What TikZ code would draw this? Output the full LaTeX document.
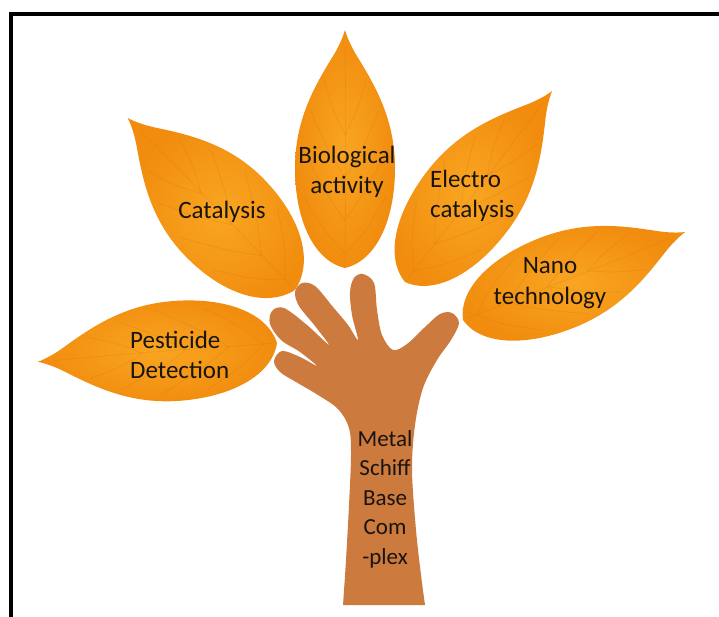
\documentclass[tikz,border=0pt]{standalone}
\usepackage{fontspec}
\setmainfont{Carlito}
\definecolor{leafLight}{RGB}{249,166,34}
\definecolor{leafDark}{RGB}{241,140,14}
\definecolor{leafVein}{RGB}{214,118,18}
\definecolor{handBrown}{RGB}{204,122,62}
\definecolor{inkDark}{RGB}{26,20,16}
\tikzset{
  leaffill/.style={inner color=leafLight, outer color=leafDark},
  vein/.style={draw=leafVein, line width=0.6pt, opacity=0.32},
  leaftext/.style={font=\fontsize{25}{30.5}\selectfont, text=inkDark, inner sep=0pt},
  trunktext/.style={font=\fontsize{23}{29.5}\selectfont, text=inkDark, inner sep=0pt, align=center},
  frameline/.style={line width=4pt, draw=black, line join=miter},
}
% one leaf: base point, direction angle, length, half width
\newcommand\drawleaf[4]{%
  \begin{scope}[shift={(#1)}, rotate=#2, xscale=#3, yscale=#4]
    \shade[leaffill] (0,0) .. controls (0.03,0.62) and (0.2,1) .. (0.42,1)
      .. controls (0.62,1) and (0.76,0.62) .. (0.88,0.27)
      .. controls (0.93,0.12) and (0.97,0.04) .. (1,0)
      .. controls (0.97,-0.04) and (0.93,-0.12) .. (0.88,-0.27)
      .. controls (0.76,-0.62) and (0.62,-1) .. (0.42,-1)
      .. controls (0.2,-1) and (0.03,-0.62) .. (0,0) -- cycle;
    \draw[vein] (0.02,0) .. controls (0.4,0.02) and (0.7,0.02) .. (0.93,0);
    \foreach \s in {1,-1} {
      \draw[vein] (0.06,0) .. controls (0.15,0.4*\s) .. (0.30,0.82*\s);
      \draw[vein] (0.20,0) .. controls (0.32,0.4*\s) .. (0.50,0.85*\s);
      \draw[vein] (0.38,0) .. controls (0.50,0.35*\s) .. (0.66,0.68*\s);
      \draw[vein] (0.56,0) .. controls (0.66,0.24*\s) .. (0.79,0.42*\s);
    }
  \end{scope}}
\begin{document}
\begin{tikzpicture}[x=1pt,y=-1pt]
  \useasboundingbox (0,0) rectangle (719,617);
  \clip (0,0) rectangle (719,617);
  \fill[white] (0,0) rectangle (719,617);

  % frame, only its top and left sides fall inside the page
  \draw[frameline] (740,14) -- (11,14) -- (11,640);

  % hand and trunk
  \fill[handBrown] plot[smooth, tension=0.55] coordinates {
    (343,605) (346,560) (349,505) (351,455) (349,428) (338,409) (318,395)
    (296,382) (280,372) (274,361) (282,351) (300,357) (317,366)
    (300,352) (281,340) (270,324) (272,311) (284,308) (307,325) (329,345)
    (315,326) (299,306) (295,292) (302,283) (315,286) (333,307) (348,325) (358,340)
    (352,315) (350,292) (354,278) (363,274) (374,283) (377,310) (382,335) (393,350)
    (407,344) (424,328) (440,314) (452,313) (459,323) (451,340) (437,360)
    (423,388) (415,425) (412,470) (416,530) (421,575) (425,605)} -- cycle;

  % leaves
  \drawleaf{345,268}{90}{238}{50}
  \drawleaf{295,290}{134.2}{240}{55}
  \drawleaf{405,282}{52.4}{241}{50}
  \drawleaf{463,320}{21.6}{239}{48}
  \drawleaf{277,343}{184.5}{240}{50}

  % labels
  \node[leaftext, align=center] (bio) at (347,172) {Biological\\activity};
  \node[leaftext] (cat) at (222,212) {Catalysis};
  \node[leaftext, align=left, anchor=west] (elec) at (430,196) {Electro\\catalysis};
  \node[leaftext, align=center] (nano) at (550,283) {Nano\\technology};
  \node[leaftext, align=left, anchor=west] (pest) at (130,355) {Pesticide\\Detection};
  \node[trunktext] (msb) at (385,499) {Metal\\Schiff\\Base\\Com\\-plex};
\end{tikzpicture}
\end{document}
